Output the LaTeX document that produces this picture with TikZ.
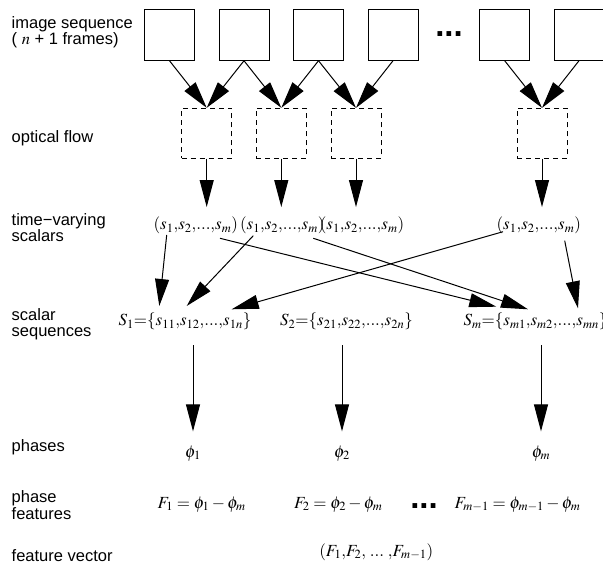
\documentclass[tikz,border=0pt]{standalone}
\usepackage{mathptmx}
\usepackage{fontspec}
\newfontfamily\labelfont{Liberation Sans}
\usepackage{tikz}
\usetikzlibrary{arrows.meta,calc}
\DeclareMathSizes{17}{17}{12.5}{10}

\tikzset{
  lbl/.style={font=\labelfont\fontsize{16.5}{16.5}\selectfont, anchor=base west, align=left, inner sep=0pt},
  expr/.style={font=\fontsize{17}{17}\selectfont, anchor=base, inner sep=0pt},
  frame/.style={draw, line width=1pt, minimum width=50pt, minimum height=51pt, inner sep=0pt},
  flow/.style={draw, line width=0.9pt, dash pattern=on 5pt off 4pt, minimum width=50pt, minimum height=50pt, inner sep=0pt},
  dots/.style={font=\labelfont\bfseries\fontsize{33}{33}\selectfont, inner sep=0pt},
  arr/.style={line width=1pt, -{Triangle[length=27pt,width=14pt]}}
}

\begin{document}
\begin{tikzpicture}[x=1pt,y=-1pt]
    \useasboundingbox (0,0) rectangle (603,564);

    % Row labels (base = last line)
    \node[lbl] (Limg) at (11.5,44.8) {image sequence\\( $n$ + 1 frames)};
    \node[lbl] (Lflow) at (11.5,143) {optical flow};
    \node[lbl] (Ltv) at (11.5,242) {time−varying\\scalars};
    \node[lbl] (Lseq) at (11.5,336.7) {scalar\\sequences};
    \node[lbl] (Lph) at (11.5,451) {phases};
    \node[lbl] (Lpf) at (11.5,519) {phase\\features};
    \node[lbl] (Lfv) at (11.5,561) {feature vector};

    % Frames
    \node[frame] (I1) at (169.5,34.75) {};
    \node[frame] (I2) at (244,34.75) {};
    \node[frame] (I3) at (318.5,34.75) {};
    \node[frame] (I4) at (393,34.75) {};
    \node[dots] (Idots) at (449,34) {...};
    \node[frame] (I5) at (504.7,34.75) {};
    \node[frame] (I6) at (579,34.75) {};

    % Optical flow
    \node[flow] (D1) at (206.7,133.3) {};
    \node[flow] (D2) at (281.3,133.3) {};
    \node[flow] (D3) at (356,133.3) {};
    \node[flow] (D4) at (542,133.3) {};

    % Time-varying scalars
    \node[expr] (T1) at (195.8,230) {$(s_1{,}s_2{,}{.}{.}{.}{,}s_m)$};
    \node[expr] (T2) at (282.3,230) {$(s_1{,}s_2{,}{.}{.}{.}{,}s_m)$};
    \node[expr] (T3) at (362,230) {$(s_1{,}s_2{,}{.}{.}{.}{,}s_m)$};
    \node[expr] (T4) at (538.8,230) {$(s_1{,}s_2{,}{.}{.}{.}{,}s_m)$};

    % Scalar sequences
    \node[expr] (S1) at (185,326) {$S_1{=}\{s_{11}{,}s_{12}{,}{.}{.}{.}{,}s_{1n}\}$};
    \node[expr] (S2) at (346.5,326) {$S_2{=}\{s_{21}{,}s_{22}{,}{.}{.}{.}{,}s_{2n}\}$};
    \node[expr] (Sm) at (535.5,326) {$S_m{=}\{s_{m1}{,}s_{m2}{,}{.}{.}{.}{,}s_{mn}\}$};

    % Phases
    \node[expr] (P1) at (193,457) {$\phi_1$};
    \node[expr] (P2) at (342,457) {$\phi_2$};
    \node[expr] (Pm) at (541,457) {$\phi_m$};

    % Phase features
    \node[expr] (F1) at (201.7,508) {$F_1 = \phi_1 - \phi_m$};
    \node[expr] (F2) at (338.3,508) {$F_2 = \phi_2 - \phi_m$};
    \node[dots] (Fdots) at (424,505.7) {...};
    \node[expr] (Fm) at (517.5,508) {$F_{m-1} = \phi_{m-1} - \phi_m$};

    % Feature vector
    \node[expr] (V) at (376.3,556) {$(F_1{,}F_2{,}\;{.}{.}{.}\;{,}F_{m-1})$};

    % Arrows: frames to optical flow
    \draw[arr] (I1.south) -- (D1.north);
    \draw[arr] (I2.south) -- (D1.north);
    \draw[arr] (I2.south) -- (D2.north);
    \draw[arr] (I3.south) -- (D2.north);
    \draw[arr] (I3.south) -- (D3.north);
    \draw[arr] (I4.south) -- (D3.north);
    \draw[arr] (I5.south) -- (D4.north);
    \draw[arr] (I6.south) -- (D4.north);

    % Arrows: optical flow to scalars
    \draw[arr, shorten >=10pt] (D1.south) -- (D1.south |- T1.north);
    \draw[arr, shorten >=10pt] (D2.south) -- (D2.south |- T2.north);
    \draw[arr, shorten >=10pt] (D3.south) -- (D3.south |- T3.north);
    \draw[arr, shorten >=10pt] (D4.south) -- (D4.south |- T4.north);

    % Arrows: scalars to sequences
    \draw[arr] ([shift={(-29.1,5)}]T1.base) -- ([shift={(-25.7,-20)}]S1.base);
    \draw[arr] ([shift={(-29,5.7)}]T2.base) -- ([shift={(1.7,-20)}]S1.base);
    \draw[arr] ([shift={(-35.8,1.7)}]T4.base) -- ([shift={(46.7,-16.7)}]S1.base);
    \draw[arr] ([shift={(24.2,8.3)}]T1.base) -- ([shift={(-39.2,-19.3)}]Sm.base);
    \draw[arr] ([shift={(31,8.3)}]T2.base) -- ([shift={(-7.5,-16.7)}]Sm.base);
    \draw[arr] ([shift={(25.9,10.7)}]T4.base) -- ([shift={(42.5,-17.7)}]Sm.base);

    % Arrows: sequences to phases
    \draw[arr, shorten <=15pt, shorten >=14pt] (P1.north |- S1.south) -- (P1.north);
    \draw[arr, shorten <=15pt, shorten >=14pt] (P2.north |- S2.south) -- (P2.north);
    \draw[arr, shorten <=15pt, shorten >=14pt] (Pm.north |- Sm.south) -- (Pm.north);
\end{tikzpicture}
\end{document}
